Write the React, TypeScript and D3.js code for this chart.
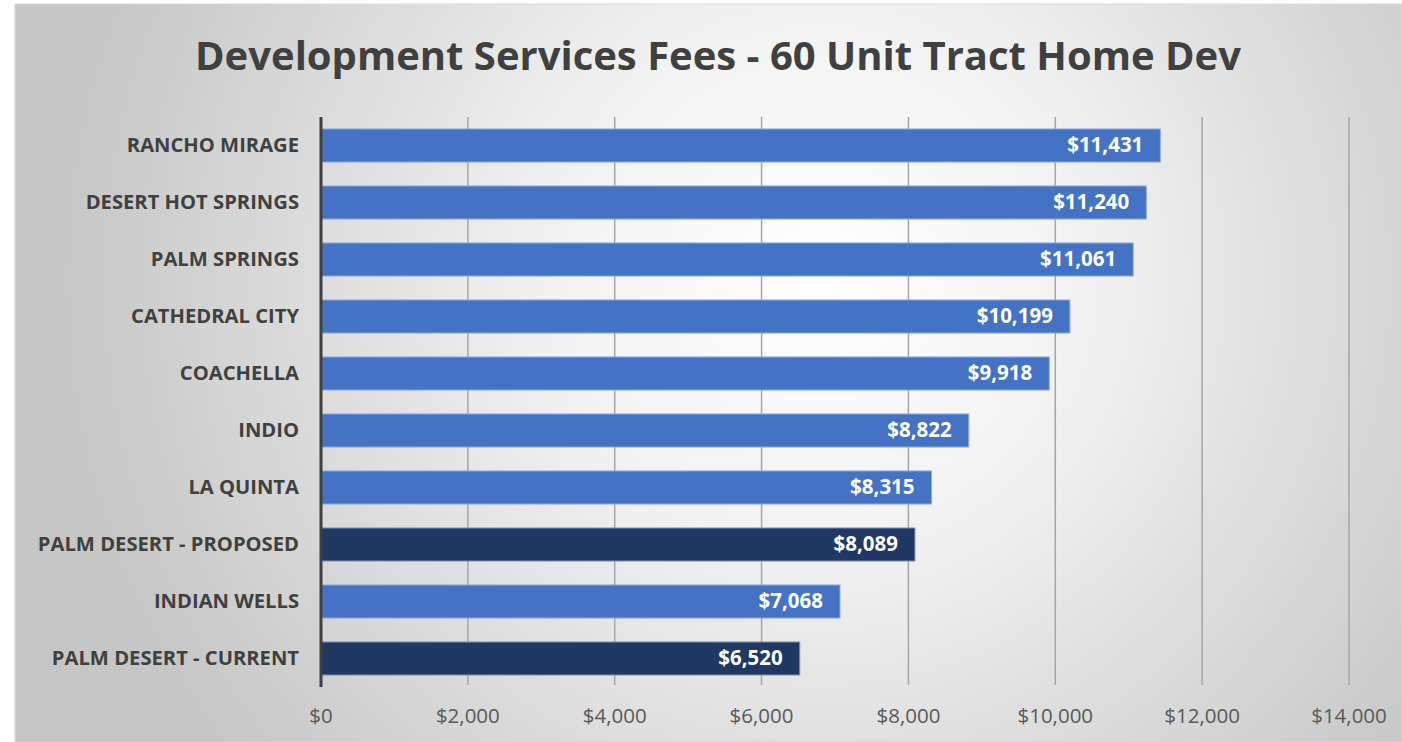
import React from "react";
import * as d3 from "d3";

const categories = [
  "RANCHO MIRAGE",
  "DESERT HOT SPRINGS",
  "PALM SPRINGS",
  "CATHEDRAL CITY",
  "COACHELLA",
  "INDIO",
  "LA QUINTA",
  "PALM DESERT - PROPOSED",
  "INDIAN WELLS",
  "PALM DESERT - CURRENT",
];
const values = [11431, 11240, 11061, 10199, 9918, 8822, 8315, 8089, 7068, 6520];
const highlighted = ["PALM DESERT - PROPOSED", "PALM DESERT - CURRENT"];
const tickValues = [0, 2000, 4000, 6000, 8000, 10000, 12000, 14000];
const title = "Development Services Fees - 60 Unit Tract Home Dev";

const W = 1402;
const H = 742;
const M = { left: 321, right: 1349, top: 117, bottom: 687 };
const FONT = "'Open Sans', 'DejaVu Sans', sans-serif";

export default function App() {
  const x = d3.scaleLinear().domain([0, 14000]).range([M.left, M.right]);
  const y = d3
    .scaleBand<string>()
    .domain(categories)
    .range([M.top, M.bottom])
    .paddingInner(0.42)
    .paddingOuter(0.21);
  const fmt = (v: number) => "$" + d3.format(",")(v);

  return (
    <svg
      width={W}
      height={H}
      style={{ position: "absolute", left: 0, top: 0, display: "block" }}
    >
      <defs>
        <radialGradient
          id="bg"
          gradientUnits="userSpaceOnUse"
          cx={820}
          cy={280}
          r={760}
        >
          <stop offset="0" stopColor="#ffffff" />
          <stop offset="0.35" stopColor="#f2f2f2" />
          <stop offset="1" stopColor="#c6c6c6" />
        </radialGradient>
      </defs>
      <rect x={0} y={0} width={W} height={H} fill="#ffffff" />
      <rect x={15} y={4} width={W - 15} height={H - 4} fill="url(#bg)" stroke="#d9d9d9" strokeWidth={1} />
      <text
        x={718}
        y={70}
        textAnchor="middle"
        fontFamily={FONT}
        fontWeight={700}
        fontSize={40}
        fill="#404040"
      >
        {title}
      </text>
      {tickValues.slice(1).map((t) => (
        <line
          key={t}
          x1={x(t)}
          x2={x(t)}
          y1={M.top}
          y2={M.bottom - 2}
          stroke="#a6a6a6"
          strokeWidth={1.5}
        />
      ))}
      {categories.map((c, i) => {
        const hl = highlighted.includes(c);
        const by = y(c)!;
        const bh = y.bandwidth();
        return (
          <g key={c}>
            <rect
              x={x(0)}
              y={by}
              width={x(values[i]) - x(0)}
              height={bh}
              fill={hl ? "#203864" : "#4472c4"}
              stroke={hl ? "#8497b0" : "#8faadc"}
              strokeWidth={1}
            />
            <text
              x={x(values[i]) - 17}
              y={by + bh / 2}
              dy="0.33em"
              textAnchor="end"
              fontFamily={FONT}
              fontWeight={700}
              fontSize={20.5}
              fill="#ffffff"
            >
              {fmt(values[i])}
            </text>
            <text
              x={299}
              y={by + bh / 2}
              dy="0.3em"
              textAnchor="end"
              fontFamily={FONT}
              fontWeight={700}
              fontSize={20.2}
              fill="#404040"
            >
              {c}
            </text>
          </g>
        );
      })}
      <line
        x1={x(0)}
        x2={x(0)}
        y1={M.top}
        y2={M.bottom}
        stroke="#404040"
        strokeWidth={3}
      />
      {tickValues.map((t) => (
        <text
          key={t}
          x={x(t)}
          y={716}
          dy="0.36em"
          textAnchor="middle"
          fontFamily={FONT}
          fontSize={20.5}
          fill="#595959"
        >
          {fmt(t)}
        </text>
      ))}
    </svg>
  );
}
